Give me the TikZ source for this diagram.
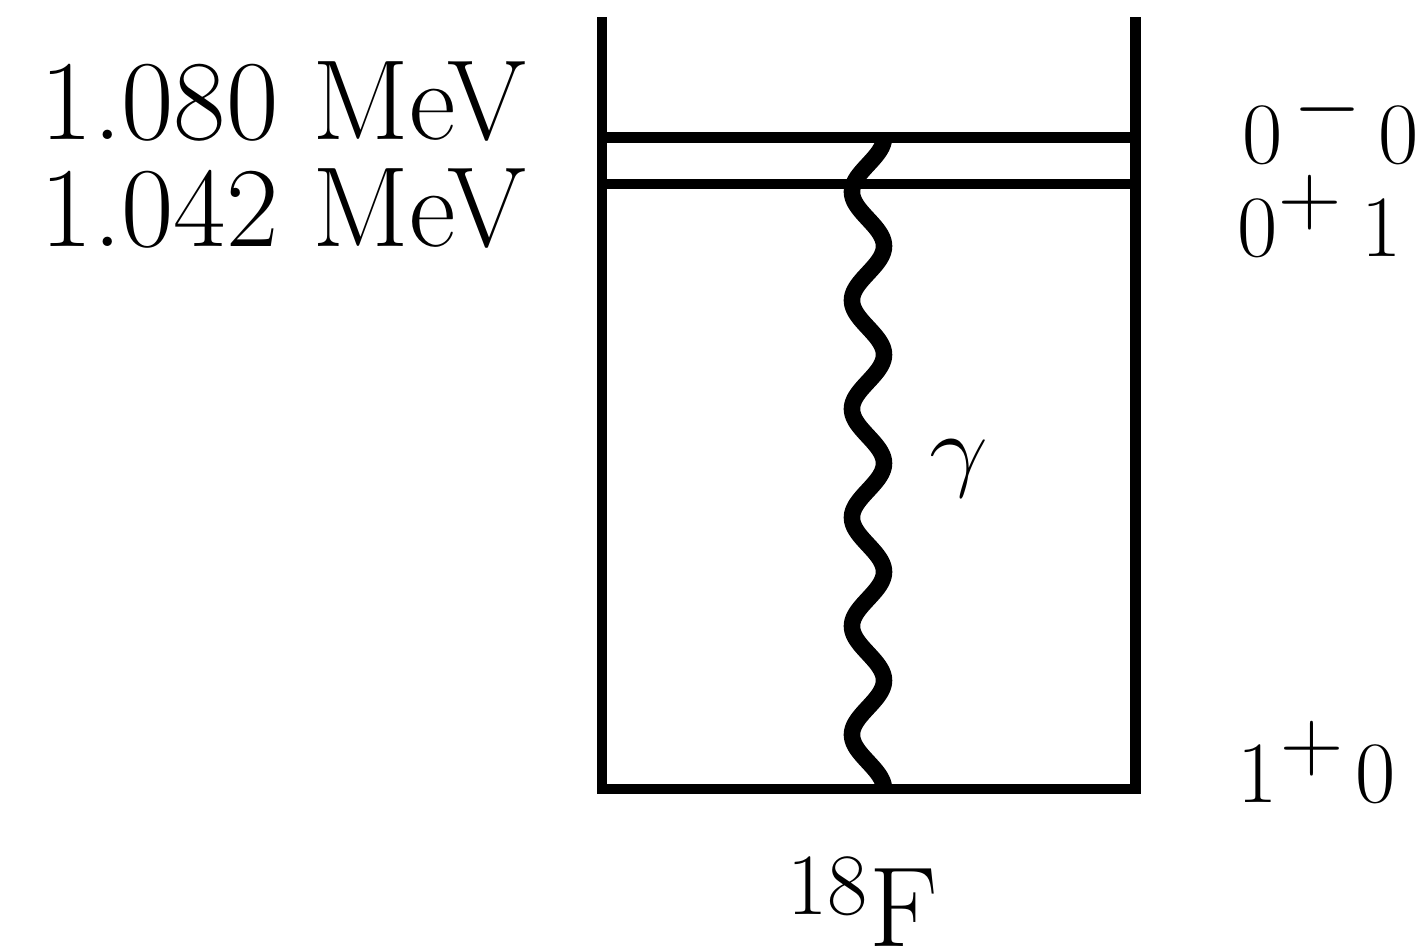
\documentclass[tikz,border=0pt]{standalone}
\usetikzlibrary{calc}
\DeclareMathSizes{32.4}{32.4}{23}{16.2}
\begin{document}
\begin{tikzpicture}[x=0.01cm,y=-0.01cm,
  lbl/.style={inner sep=0pt, outer sep=0pt, font=\fontsize{32.4}{39}\selectfont},
  frame/.style={line width=2.85pt, line join=miter},
  level/.style={line width=2.85pt},
  gammawave/.style={line width=4.7pt}]
\useasboundingbox (0,0) rectangle (1426,951);
% frame of the level scheme
\coordinate (lt) at (602,17);
\coordinate (lb) at (602,789);
\coordinate (rb) at (1135.5,789);
\coordinate (rt) at (1135.5,17);
\draw[frame] (lt) -- (lb) -- (rb) -- (rt);
% excited levels
\coordinate (l1) at (602,137.5);
\coordinate (r1) at (1135.5,137.5);
\coordinate (l2) at (602,184);
\coordinate (r2) at (1135.5,184);
\draw[level] (l1) -- (r1);
\draw[level] (l2) -- (r2);
% gamma transition
\coordinate (gtop) at (884,137.5);
\coordinate (gbot) at (884,789);
\draw[gammawave] let \p1=(gtop), \p2=(gbot) in
  plot[domain=0:1, samples=500, smooth, variable=\t]
  ({\x1+(-16+16*cos(2160*\t))*0.2845pt}, {\y1+(\y2-\y1)*\t});
\node[lbl, anchor=base west] (gam) at (929,479) {\scalebox{1.2}[1.05]{$\gamma$}};
% labels
\node[lbl, anchor=base east] (e1) at (526,139) {1.080 MeV};
\node[lbl, anchor=base east] (e2) at (526,246) {1.042 MeV};
\node[lbl, anchor=base west] (j1) at (1242,163) {$0^{\mkern2.4mu-}\mkern3mu0$};
\node[lbl, anchor=base west] (j2) at (1237,256) {$0^{\mkern0.3mu+}\mkern3.8mu1$};
\node[lbl, anchor=base west] (j3) at (1237,802) {$1^{\mkern0.7mu+}\mkern2.2mu0$};
\node[lbl, anchor=base west] (nuc) at (787,946) {$^{18}$F};
\end{tikzpicture}
\end{document}
